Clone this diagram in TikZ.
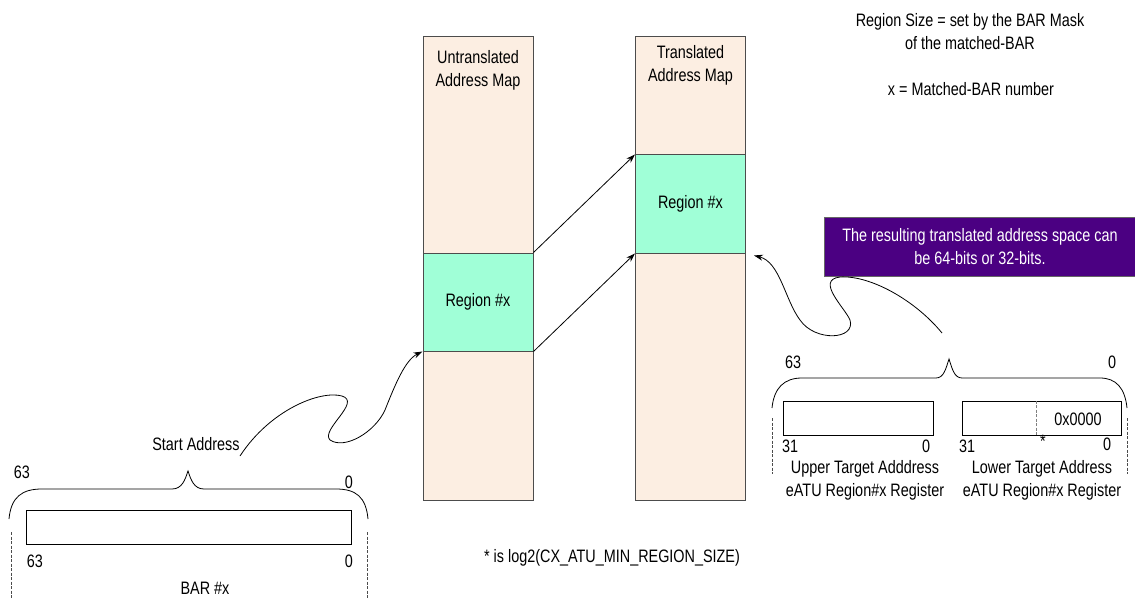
\documentclass[tikz,border=0pt]{standalone}
\usepackage{fontspec}
\setmainfont{Liberation Sans}[FakeStretch=0.8]
\usepackage{xcolor}
\usepackage{tikz}
\usetikzlibrary{arrows.meta,positioning,calc}
\definecolor{mapfill}{RGB}{252,238,226}
\definecolor{regfill}{RGB}{160,255,215}
\definecolor{notefill}{RGB}{75,0,130}

\begin{document}
\begin{tikzpicture}[
  x=1pt,y=-1pt,
  font=\fontsize{18}{23}\selectfont,
  column/.style={rectangle,draw=black!70,fill=mapfill,line width=1pt,minimum width=110pt,
                 minimum height=463pt,inner sep=0pt},
  region/.style={rectangle,draw=black!70,fill=regfill,line width=1pt,minimum width=110pt,
                 minimum height=98pt,inner sep=0pt,align=center},
  register/.style={rectangle,draw,line width=0.8pt,minimum height=34pt,inner sep=0pt},
  note/.style={rectangle,draw=black!60,fill=notefill,text=white,align=center,
               minimum width=312pt,minimum height=59pt,inner sep=0pt},
  lbl/.style={inner sep=0pt,align=center},
  brace/.style={line width=0.8pt},
  guide/.style={dash pattern=on 3pt off 1.5pt,line width=0.8pt,black!70},
  arr/.style={-{Stealth[length=9pt,width=6pt]},line width=0.8pt}
]
  \useasboundingbox (0,0) rectangle (1135,599);

  % address maps
  \node[column] (umap) at (478,268.5) {};
  \node[column] (tmap) at (690.5,268.5) {};
  \node[lbl] (utitle) at (478,70) {Untranslated\\Address Map};
  \node[lbl] (ttitle) at (690.5,65) {Translated\\Address Map};
  \node[region] (ureg) at (478,302) {Region \#x};
  \node[region] (treg) at (690.5,204) {Region \#x};

  \draw[arr] (ureg.north east) -- (treg.north west);
  \draw[arr] (ureg.south east) -- (treg.south west);

  % notes
  \node[lbl] (rsize) at (970,31.5) {Region Size = set by the BAR Mask\\of the matched-BAR};
  \node[lbl] (xnum)  at (971,89) {x = Matched-BAR number};
  \node[note] (res)  at (980,246.5) {The resulting translated address space can\\be 64-bits or 32-bits.};
  \node[lbl] (star)  at (612,558) {* is log2(CX\_ATU\_MIN\_REGION\_SIZE)};

  % BAR register
  \node[register,minimum width=325pt] (bar) at (188.5,527) {};
  \node[lbl] (barhi)  at (22,472) {63};
  \node[lbl] (barlo)  at (349,482) {0};
  \node[lbl] (barhi2) at (35,561) {63};
  \node[lbl] (barlo2) at (349,561) {0};
  \node[lbl] (barname) at (205,588) {BAR \#x};
  \node[lbl] (start) at (196,444) {Start Address};
  \draw[brace] (9,519) .. controls (11,497) and (22,489) .. (42,489) -- (172,489)
    .. controls (182,489) and (185,480) .. (188,471) .. controls (191,480) and (194,489) .. (204,489)
    -- (336,489) .. controls (356,489) and (366,497) .. (368,519);
  \draw[guide] (11,532) -- (11,599);
  \draw[guide] (367,532) -- (367,599);

  \coordinate (sa) at (240,456);
  \draw[arr] (sa) .. controls (270,410) and (320,390) .. (342,396)
    .. controls (362,402) and (320,430) .. (330,440)
    .. controls (345,450) and (375,432) .. (385,410)
    .. controls (395,385) and (405,360) .. (ureg.south west);

  % target registers
  \node[register,minimum width=150pt] (upper) at (858,418) {};
  \node[register,minimum width=159pt] (lower) at (1041.5,418) {};
  \draw[guide,black!50] ([xshift=-85pt]lower.north east) -- ([xshift=-85pt]lower.south east);
  \node[lbl] (zeros) at (1078,419) {0x0000};
  \node[lbl] (uhi) at (790,446) {31};
  \node[lbl] (ulo) at (926,446) {0};
  \node[lbl] (lhi) at (967,446) {31};
  \node[lbl] (lmid) at (1043,441) {*};
  \node[lbl] (llo) at (1107,444) {0};
  \node[lbl] (uname) at (865,480) {Upper Target Adddress\\eATU Region\#x Register};
  \node[lbl] (lname) at (1042,480) {Lower Target Address\\eATU Region\#x Register};
  \node[lbl] (rhi) at (793,362) {63};
  \node[lbl] (rlo) at (1112,362) {0};
  \draw[brace] (772,408) .. controls (774,388) and (784,378) .. (802,378) -- (936,378)
    .. controls (944,378) and (946,368) .. (949,359) .. controls (952,368) and (954,378) .. (962,378)
    -- (1100,378) .. controls (1116,378) and (1125,388) .. (1127,408);
  \draw[guide] (772,418) -- (772,474);
  \draw[guide] (1127,418) -- (1127,474);

  \coordinate (ta) at (942,333);
  \draw[arr] (ta) .. controls (915,300) and (870,275) .. (840,277)
    .. controls (815,280) and (845,308) .. (850,320)
    .. controls (856,340) and (815,342) .. (800,320)
    .. controls (785,300) and (780,262) .. ($(treg.south east)+(8,2)$);
\end{tikzpicture}
\end{document}
